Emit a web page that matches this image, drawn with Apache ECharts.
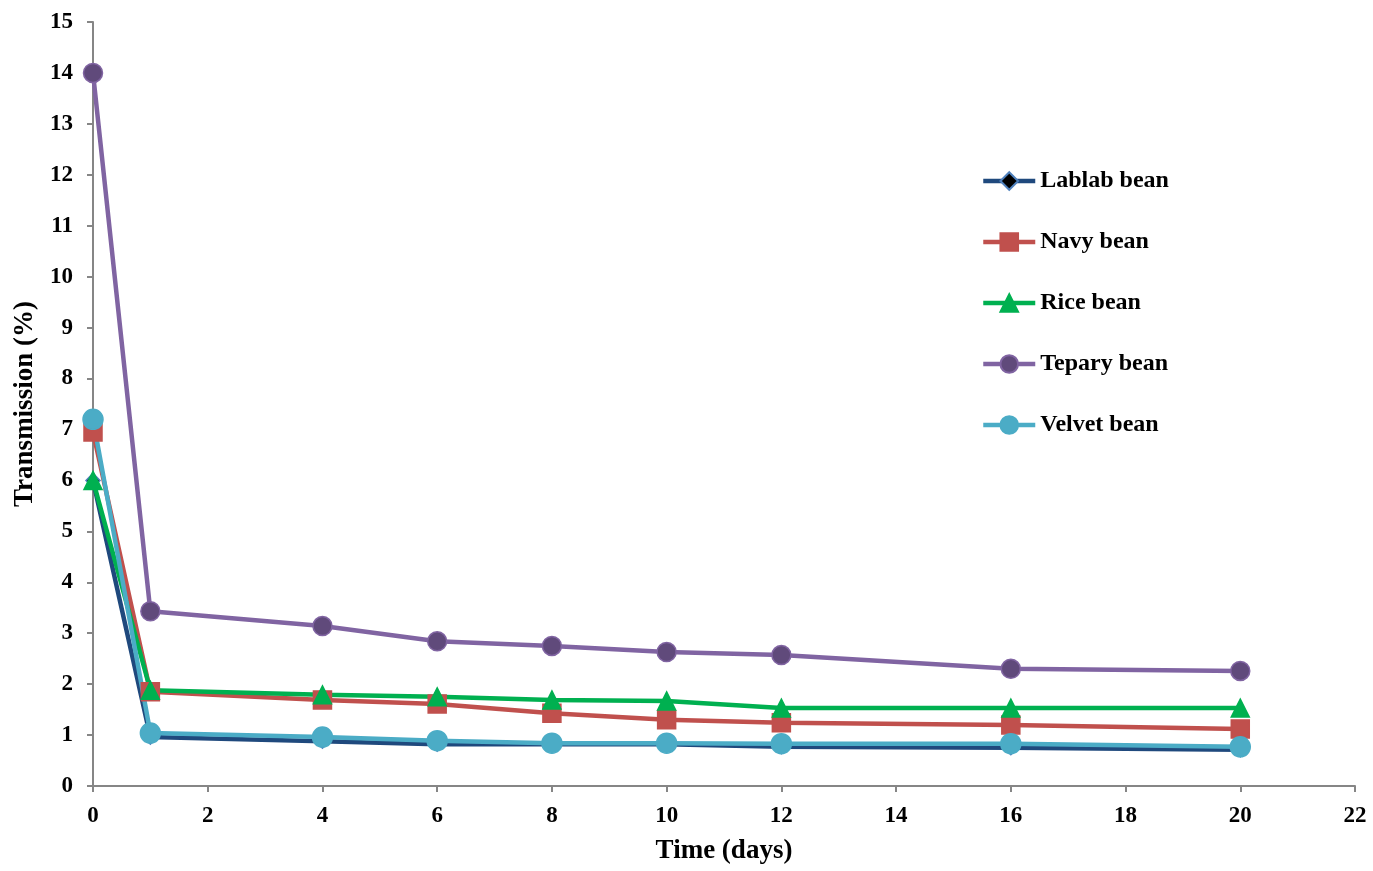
<!DOCTYPE html>
<html>
<head>
<meta charset="utf-8">
<title>Transmission over time</title>
<script src="https://cdn.jsdelivr.net/npm/echarts@6/dist/echarts.min.js"></script>
<style>
  html, body { margin: 0; padding: 0; background: #fff; }
  #chart { width: 1373px; height: 871px; }
</style>
</head>
<body>
<div id="chart"></div>
<script>
// Sampling days
const days = [0, 1, 4, 6, 8, 10, 12, 16, 20];

// Transmission (%) per bean type
const lablab = [6.0, 0.96, 0.88, 0.82, 0.82, 0.82, 0.77, 0.75, 0.71];
const navy   = [6.95, 1.85, 1.69, 1.61, 1.43, 1.30, 1.24, 1.20, 1.12];
const rice   = [6.0, 1.88, 1.79, 1.75, 1.69, 1.67, 1.53, 1.53, 1.53];
const tepary = [14.0, 3.43, 3.14, 2.84, 2.75, 2.63, 2.57, 2.30, 2.26];
const velvet = [7.2, 1.04, 0.96, 0.89, 0.84, 0.84, 0.83, 0.83, 0.77];

const seriesNames = ['Lablab bean', 'Navy bean', 'Rice bean', 'Tepary bean', 'Velvet bean'];

const pairs = (ys) => days.map((d, i) => [d, ys[i]]);

const font = '"Liberation Serif", "Times New Roman", serif';

function lineSeries(name, ys, lineColor, symbol, size, fill, border) {
  return {
    name: name,
    type: 'line',
    data: pairs(ys),
    symbol: symbol,
    symbolSize: size,
    showAllSymbol: true,
    lineStyle: { color: lineColor, width: 4.5 },
    itemStyle: { color: fill, borderColor: border, borderWidth: 1.5 },
    emphasis: { disabled: true },
    animation: false
  };
}

const chart = echarts.init(document.getElementById('chart'));
chart.setOption({
  backgroundColor: '#ffffff',
  grid: { left: 93, right: 18, top: 22, bottom: 85, containLabel: false },
  legend: {
    orient: 'vertical',
    left: 981,
    top: 169,
    padding: 0,
    itemGap: 37,
    itemWidth: 52,
    itemHeight: 22,
    data: seriesNames,
    lineStyle: { width: 4.5 },
    textStyle: { fontFamily: font, fontWeight: 'bold', fontSize: 24, lineHeight: 24, color: '#000' }
  },
  xAxis: {
    type: 'value',
    min: 0, max: 22, interval: 2,
    name: 'Time (days)',
    nameLocation: 'middle',
    nameGap: 52,
    nameTextStyle: { fontFamily: font, fontWeight: 'bold', fontSize: 27, color: '#000' },
    axisLine: { show: true, lineStyle: { color: '#868686', width: 2 } },
    axisTick: { show: true, length: 6, lineStyle: { color: '#868686', width: 2 } },
    axisLabel: { fontFamily: font, fontWeight: 'bold', fontSize: 23, color: '#000', margin: 19 },
    splitLine: { show: false }
  },
  yAxis: {
    type: 'value',
    min: 0, max: 15, interval: 1,
    name: 'Transmission (%)',
    nameLocation: 'middle',
    nameRotate: 90,
    nameGap: 54,
    nameTextStyle: { fontFamily: font, fontWeight: 'bold', fontSize: 27, color: '#000' },
    axisLine: { show: true, lineStyle: { color: '#868686', width: 2 } },
    axisTick: { show: true, length: 6, lineStyle: { color: '#868686', width: 2 } },
    axisLabel: { fontFamily: font, fontWeight: 'bold', fontSize: 23, color: '#000', margin: 20 },
    splitLine: { show: false }
  },
  series: [
    lineSeries('Lablab bean', lablab, '#1F497D', 'diamond', 14, '#000000', '#4F81BD'),
    lineSeries('Navy bean', navy, '#C0504D', 'rect', 18, '#C0504D', '#C0504D'),
    lineSeries('Rice bean', rice, '#00B050', 'triangle', 18, '#00B050', '#00B050'),
    lineSeries('Tepary bean', tepary, '#8064A2', 'circle', 19, '#604A7B', '#8064A2'),
    lineSeries('Velvet bean', velvet, '#4BACC6', 'circle', 20, '#4BACC6', '#4BACC6')
  ]
});
</script>
</body>
</html>
